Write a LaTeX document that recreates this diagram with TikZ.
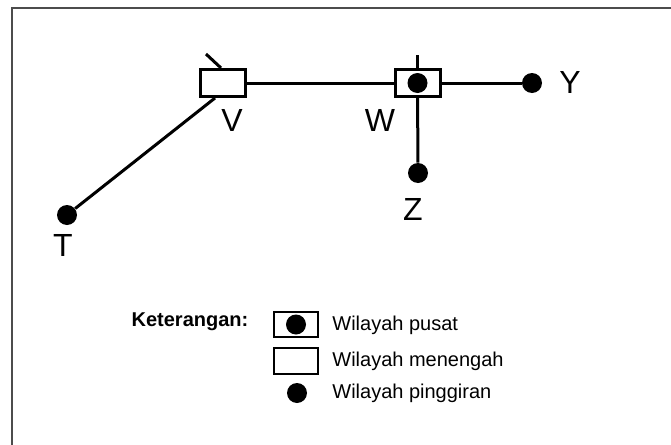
\documentclass[tikz,border=0pt]{standalone}
\usepackage{fontspec}
\setmainfont{Liberation Sans}
\usetikzlibrary{positioning}

\begin{document}
\begin{tikzpicture}[
  x=0.5pt, y=-0.5pt,
  link/.style={line width=1.5pt},
  midbox/.style={draw,line width=1.5pt,fill=white,inner sep=0pt,
                 minimum width=22.5pt,minimum height=13.5pt},
  dot/.style={circle,fill=black,inner sep=0pt,minimum size=10pt},
  lbl/.style={font=\fontsize{16}{19}\selectfont},
  legtxt/.style={font=\fontsize{10}{12}\selectfont,anchor=west,inner sep=0pt},
  legbox/.style={draw,line width=0.8pt,fill=white,inner sep=0pt,
                 minimum width=22pt,minimum height=12.75pt},
]
  \useasboundingbox (0,0) rectangle (671,445);
  \draw[line width=0.75pt,gray!60!black] (671,8) -- (12,8) -- (12,445);

  % wilayah
  \node[dot]    (T) at (67,215)  {};
  \node[midbox] (V) at (222.5,83) {};
  \node[midbox] (W) at (417.5,83) {};
  \node[dot]    (Z) at (418,173) {};
  \node[dot]    (Y) at (532,83)  {};
  \coordinate (vtop) at (206,54);
  \coordinate (wtop) at (417.5,55);

  \draw[link] (T) -- ([xshift=-3.75pt]V.south);
  \draw[link] (vtop) -- ([xshift=-0.75pt]V.north);
  \draw[link] (V) -- (W);
  \draw[link] (W) -- (Y);
  \draw[link] (W) -- (Z);
  \draw[link] (wtop) -- (W);
  \node[dot] (Wc) at (W.center) {};

  \node[lbl] (Tl) at (63,245)  {T};
  \node[lbl] (Vl) at (232,120) {V};
  \node[lbl] (Wl) at (380,120) {W};
  \node[lbl] (Zl) at (413,209) {Z};
  \node[lbl] (Yl) at (570,82)  {Y};

  % keterangan
  \node[font=\fontsize{10}{12}\selectfont\bfseries] (ket) at (190,322) {Keterangan:};
  \node[legbox] (lb1) at (296,324.5) {};
  \node[dot]    (ld1) at (lb1.center) {};
  \node[legbox] (lb2) at (296,361) {};
  \node[dot]    (ld3) at (297,393) {};
  \node[legtxt] (lt1) at (332,325) {Wilayah pusat};
  \node[legtxt] (lt2) at (332,361) {Wilayah menengah};
  \node[legtxt] (lt3) at (332,393) {Wilayah pinggiran};
\end{tikzpicture}
\end{document}
